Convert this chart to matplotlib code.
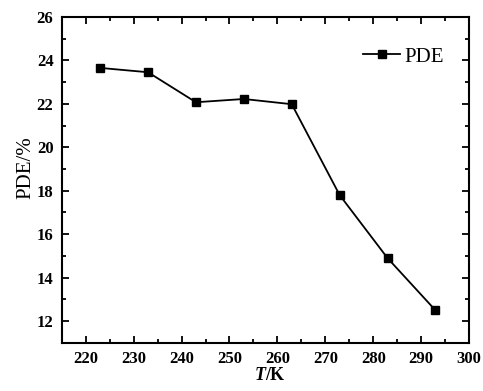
import matplotlib.pyplot as plt
from matplotlib.ticker import MultipleLocator

# Data
temperature = [223, 233, 243, 253, 263, 273, 283, 293]
pde = [23.65, 23.45, 22.07, 22.22, 21.98, 17.8, 14.9, 12.5]

plt.rcParams['font.family'] = ['Liberation Serif', 'DejaVu Serif']

fig = plt.figure(figsize=(4.83, 3.91), dpi=100)
ax = fig.add_axes([0.128, 0.123, 0.843, 0.834])

ax.plot(temperature, pde, color='black', marker='s', markersize=6, linewidth=1.3, label='PDE')

ax.set_xlim(215, 300)
ax.set_ylim(11, 26)
ax.xaxis.set_major_locator(MultipleLocator(10))
ax.xaxis.set_minor_locator(MultipleLocator(5))
ax.yaxis.set_major_locator(MultipleLocator(2))
ax.yaxis.set_minor_locator(MultipleLocator(1))
ax.tick_params(which='both', direction='in', top=True, right=True, width=1.3)
ax.tick_params(which='major', length=5, labelsize=12, pad=6)
ax.tick_params(which='minor', length=3)
for lbl in ax.get_xticklabels() + ax.get_yticklabels():
    lbl.set_fontweight('bold')
for s in ax.spines.values():
    s.set_linewidth(1.5)

# x label: italic bold T followed by /K
ax.text(0.5, -0.075, 'T', transform=ax.transAxes, ha='right', va='top',
        fontsize=13, fontweight='bold', fontstyle='italic')
ax.text(0.5, -0.075, '/K', transform=ax.transAxes, ha='left', va='top',
        fontsize=13, fontweight='bold')
ax.set_ylabel('PDE/%', fontsize=15)
ax.yaxis.set_label_coords(-0.066, 0.537)

ax.legend(loc='upper right', frameon=False, fontsize=15, handlelength=1.8,
          handletextpad=0.2, bbox_to_anchor=(0.985, 0.965))

fig.savefig('out.png', dpi=100)
